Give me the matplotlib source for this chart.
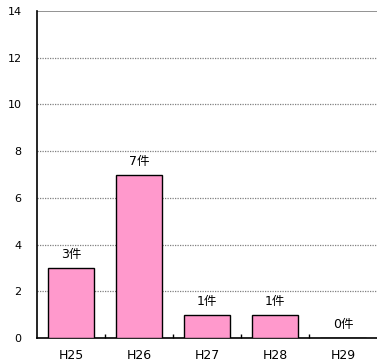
import matplotlib
matplotlib.use('Agg')
import matplotlib.pyplot as plt
import numpy as np

plt.rcParams['font.family'] = ['DejaVu Sans', 'Noto Sans CJK JP']

# yearly counts
years = ['H25', 'H26', 'H27', 'H28', 'H29']
counts = [3, 7, 1, 1, 0]
y_ticks = [0, 2, 4, 6, 8, 10, 12, 14]

fig = plt.figure(figsize=(3.77, 3.62), dpi=100)
ax = fig.add_axes([37 / 377, 24 / 362, 340 / 377, 327 / 362])

x = np.arange(len(years))
ax.bar(x, counts, width=0.68, color='#ff99cc', edgecolor='black', linewidth=1.0, zorder=3)

for xi, c in zip(x, counts):
    ax.annotate(f'{c}件', (xi, c), xytext=(0, 5), textcoords='offset points',
                ha='center', va='bottom', fontsize=9, zorder=4)

ax.set_xlim(-0.5, len(years) - 0.5)
ax.set_ylim(0, 14)
ax.set_yticks(y_ticks)
ax.set_yticklabels([str(v) for v in y_ticks], fontsize=8)

# gridlines: dotted for inner values, solid at the top
for v in y_ticks[1:-1]:
    ax.axhline(v, color='#808080', linestyle=(0, (1, 1)), linewidth=0.9, zorder=1)
ax.axhline(14, color='#808080', linewidth=1.2, zorder=1)

# category separators as small inward ticks
ax.set_xticks(np.arange(len(years) - 1) + 0.5, minor=True)
ax.tick_params(axis='x', which='minor', direction='in', length=3, width=1, color='black')
ax.set_xticks(x)
ax.set_xticklabels(years, fontsize=9)
ax.tick_params(axis='x', which='major', length=0, pad=8)
ax.tick_params(axis='y', length=0, pad=11)

for s in ['top', 'right']:
    ax.spines[s].set_visible(False)
ax.spines['left'].set_linewidth(1.2)
ax.spines['bottom'].set_linewidth(1.2)

fig.savefig('out.png', dpi=100)
